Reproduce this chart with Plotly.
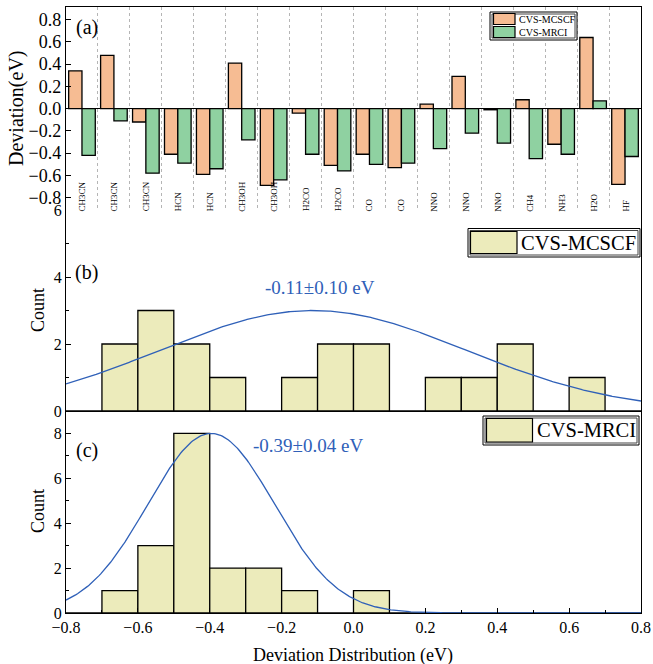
import numpy as np
import plotly.graph_objects as go

# ---------------- data ----------------
molecules = ["CH3CN", "CH3CN", "CH3CN", "HCN", "HCN", "CH3OH", "CH3OH", "H2CO", "H2CO",
             "CO", "CO", "NNO", "NNO", "NNO", "CH4", "NH3", "H2O", "HF"]
mcscf = [0.34, 0.48, -0.12, -0.41, -0.59, 0.41, -0.69, -0.04, -0.51,
         -0.41, -0.53, 0.04, 0.29, -0.01, 0.08, -0.32, 0.64, -0.68]
mrci = [-0.42, -0.11, -0.58, -0.49, -0.54, -0.28, -0.64, -0.41, -0.56,
        -0.50, -0.49, -0.36, -0.22, -0.31, -0.45, -0.41, 0.07, -0.43]
bin_edges = np.round(np.arange(-8, 9) * 0.1, 1)
label_b = "-0.11±0.10 eV"
label_c = "-0.39±0.04 eV"
series_names = ["CVS-MCSCF", "CVS-MRCI"]

# ---------------- style ----------------
FONT = "Liberation Serif, Times New Roman, serif"
C_MC = "#F6BC93"
C_MR = "#8FD1A1"
C_HIST = "#ECEBBB"
C_FIT = "#2F60B8"
LW = 1.3

W, H = 653, 664
L, R, T, B = 66, 12, 7, 51
PW, PH = W - L - R, H - T - B


def px(x):
    return (x - L) / PW


def py(y):
    return (T + PH - y) / PH


dom_a = [py(210), 1.0]
dom_b = [py(411), py(210)]
dom_c = [0.0, py(411)]

fig = go.Figure()

# ---- panel (a): bars ----
idx = list(range(len(molecules)))
fig.add_trace(go.Bar(x=idx, y=mcscf, name=series_names[0], showlegend=False,
                     marker=dict(color=C_MC, line=dict(color="black", width=LW)), xaxis="x", yaxis="y"))
fig.add_trace(go.Bar(x=idx, y=mrci, name=series_names[1], showlegend=False,
                     marker=dict(color=C_MR, line=dict(color="black", width=LW)), xaxis="x", yaxis="y"))


# ---- histograms ----
def hist_and_fit(vals, xa, ya, name):
    vals = np.asarray(vals)
    counts, edges = np.histogram(vals, bins=bin_edges)
    centers = (edges[:-1] + edges[1:]) / 2
    fig.add_trace(go.Bar(x=centers, y=counts, width=0.1, name=name, showlegend=False,
                         marker=dict(color=C_HIST, line=dict(color="black", width=LW)),
                         xaxis=xa, yaxis=ya))
    mu, sd = vals.mean(), vals.std(ddof=1)
    xs = np.linspace(-0.8, 0.8, 401)
    ys = counts.max() * np.exp(-(xs - mu) ** 2 / (2 * sd ** 2))
    fig.add_trace(go.Scatter(x=xs, y=ys, mode="lines", line=dict(color=C_FIT, width=1.3),
                             showlegend=False, xaxis=xa, yaxis=ya, hoverinfo="skip"))


hist_and_fit(mcscf, "x2", "y2", series_names[0])
hist_and_fit(mrci, "x3", "y3", series_names[1])

tickfont_a = dict(family=FONT, size=18, color="black")
tickfont = dict(family=FONT, size=16, color="black")
axline = dict(showline=True, linecolor="black", linewidth=LW, automargin=False)

fig.update_layout(
    width=W, height=H,
    margin=dict(l=L, r=R, t=T, b=B, autoexpand=False),
    paper_bgcolor="white", plot_bgcolor="white",
    barmode="group", bargap=0.167, bargroupgap=0,
    font=dict(family=FONT, color="black"),
    showlegend=False,
    xaxis=dict(domain=[0, 1], anchor="y", range=[-0.5, len(molecules) - 0.5],
               tickvals=[i + 0.5 for i in range(len(molecules) - 1)], showticklabels=False, ticks="",
               showgrid=True, gridcolor="#B5B5B5", griddash="dot", gridwidth=1, zeroline=False,
               side="top", **axline),
    yaxis=dict(domain=dom_a, anchor="x", range=[-0.911, 0.914],
               tickvals=[round(v, 1) for v in np.arange(-0.8, 0.81, 0.2)], tickformat=".1f",
               ticks="inside", ticklen=5, tickwidth=LW, tickcolor="black", tickfont=tickfont_a,
               showgrid=False, zeroline=True, zerolinecolor="black", zerolinewidth=LW,
               mirror=True, **axline),
    xaxis2=dict(domain=[0, 1], anchor="y2", range=[-0.8, 0.8], showticklabels=False, ticks="",
                showgrid=False, zeroline=False, **axline),
    yaxis2=dict(domain=dom_b, anchor="x2", range=[0, 6], tickvals=[0, 2, 4, 6],
                ticks="inside", ticklen=5, tickwidth=LW, tickcolor="black", tickfont=tickfont,
                minor=dict(tickvals=[1, 3, 5], ticks="inside", ticklen=3, tickwidth=LW, tickcolor="black"),
                showgrid=False, zeroline=False, mirror=True, **axline),
    xaxis3=dict(domain=[0, 1], anchor="y3", range=[-0.8, 0.8], dtick=0.2, tick0=-0.8, tickformat=".1f",
                ticks="inside", ticklen=5, tickwidth=LW, tickcolor="black", tickfont=tickfont,
                minor=dict(dtick=0.1, ticks="inside", ticklen=3, tickwidth=LW, tickcolor="black"),
                showgrid=False, zeroline=False, **axline),
    yaxis3=dict(domain=dom_c, anchor="x3", range=[0, 9], tickvals=[0, 2, 4, 6, 8],
                ticks="inside", ticklen=5, tickwidth=LW, tickcolor="black", tickfont=tickfont,
                minor=dict(tickvals=[1, 3, 5, 7], ticks="inside", ticklen=3, tickwidth=LW, tickcolor="black"),
                showgrid=False, zeroline=False, mirror=True, **axline),
)

ann = []
shapes = []


def rect(x0, y0, x1, y1, fill="rgba(0,0,0,0)", lw=1.0, color="black"):
    shapes.append(dict(type="rect", xref="paper", yref="paper", x0=px(x0), x1=px(x1), y0=py(y1), y1=py(y0),
                       fillcolor=fill, line=dict(color=color, width=lw), layer="above"))


def legend_box(x0, y0, x1, y1, items, fsize, sw, tx):
    rect(x0, y0, x1, y1, fill="white", lw=1.0)
    rect(x0 + 2, y0 + 2, x1 - 2, y1 - 2, lw=1.0, color="#444444")
    for name, col, sy0, sy1 in items:
        rect(sw[0], sy0, sw[1], sy1, fill=col, lw=1.2)
        ann.append(dict(x=px(tx), y=py((sy0 + sy1) / 2), xref="paper", yref="paper", text=name,
                        showarrow=False, xanchor="left", yanchor="middle",
                        font=dict(family=FONT, size=fsize, color="black")))


legend_box(490, 12, 577, 40, [(series_names[0], C_MC, 13.5, 24.5), (series_names[1], C_MR, 26.5, 37.5)],
           10, (493.5, 515), 517)
legend_box(468, 228.5, 640, 257, [(series_names[0], C_HIST, 231.5, 253.5)], 20.5, (470.5, 517), 519)
legend_box(483, 416, 639, 445, [(series_names[1], C_HIST, 418.5, 442)], 20.5, (486.5, 532.5), 535)

# category labels in panel (a)
for i, m in enumerate(molecules):
    ann.append(dict(x=i, y=py(213.5), xref="x", yref="paper", text=m, showarrow=False, textangle=-90,
                    xanchor="center", yanchor="bottom", font=dict(family=FONT, size=9, color="black")))
# panel letters
for t, yy in [("(a)", 27.5), ("(b)", 272.5), ("(c)", 450)]:
    ann.append(dict(x=px(86.5), y=py(yy), xref="paper", yref="paper", text=t, showarrow=False,
                    xanchor="center", yanchor="middle", font=dict(family=FONT, size=20, color="black")))
# fit labels
ann.append(dict(x=px(320), y=py(287.5), xref="paper", yref="paper", text=label_b, showarrow=False,
                xanchor="center", yanchor="middle", font=dict(family=FONT, size=19, color=C_FIT)))
ann.append(dict(x=px(307.5), y=py(445), xref="paper", yref="paper", text=label_c, showarrow=False,
                xanchor="center", yanchor="middle", font=dict(family=FONT, size=19, color=C_FIT)))
# axis titles
ann.append(dict(x=px(17), y=py(108), xref="paper", yref="paper", text="Deviation(eV)", showarrow=False,
                textangle=-90, xanchor="center", yanchor="middle", font=dict(family=FONT, size=20, color="black")))
ann.append(dict(x=px(38), y=py(310), xref="paper", yref="paper", text="Count", showarrow=False,
                textangle=-90, xanchor="center", yanchor="middle", font=dict(family=FONT, size=18, color="black")))
ann.append(dict(x=px(38), y=py(511), xref="paper", yref="paper", text="Count", showarrow=False,
                textangle=-90, xanchor="center", yanchor="middle", font=dict(family=FONT, size=18, color="black")))
ann.append(dict(x=px(353), y=py(655), xref="paper", yref="paper", text="Deviation Distribution (eV)",
                showarrow=False, xanchor="center", yanchor="middle", font=dict(family=FONT, size=18, color="black")))
fig.update_layout(annotations=ann, shapes=shapes)

fig.write_html("out.html", config={"displayModeBar": False},
               post_script="document.body.style.margin='0px';document.body.style.overflow='hidden';")
